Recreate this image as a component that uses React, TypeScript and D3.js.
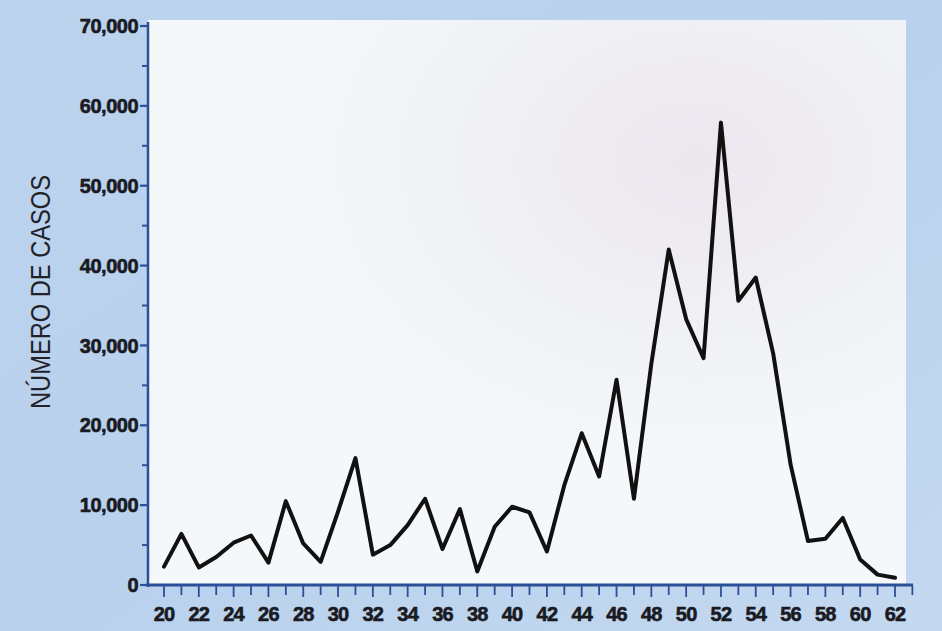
import React from "react";
import * as d3 from "d3";

const years: number[] = [
  1920, 1921, 1922, 1923, 1924, 1925, 1926, 1927, 1928, 1929,
  1930, 1931, 1932, 1933, 1934, 1935, 1936, 1937, 1938, 1939,
  1940, 1941, 1942, 1943, 1944, 1945, 1946, 1947, 1948, 1949,
  1950, 1951, 1952, 1953, 1954, 1955, 1956, 1957, 1958, 1959,
  1960, 1961, 1962,
];
const cases: number[] = [
  2300, 6400, 2200, 3500, 5300, 6200, 2800, 10500, 5200, 2900,
  9200, 15900, 3800, 5000, 7500, 10800, 4500, 9500, 1700, 7300,
  9800, 9100, 4200, 12500, 19000, 13600, 25700, 10800, 27700, 42000,
  33300, 28400, 57900, 35600, 38500, 29000, 15100, 5500, 5800, 8400,
  3200, 1300, 900,
];
const xTickLabels: number[] = [20, 22, 24, 26, 28, 30, 32, 34, 36, 38, 40, 42, 44, 46, 48, 50, 52, 54, 56, 58, 60, 62];
const yTickValues: number[] = [0, 10000, 20000, 30000, 40000, 50000, 60000, 70000];
const yTitle = "NÚMERO DE CASOS";

const W = 942;
const H = 631;

export default function App() {
  const x = d3.scaleLinear().domain([1920, 1962]).range([164, 895]);
  const y = d3.scaleLinear().domain([0, 70000]).range([585, 26]);
  const axisX0 = 148;
  const axisY0 = 585;
  const data = years.map((yr, i) => ({ yr, v: cases[i] }));
  const line = d3
    .line<{ yr: number; v: number }>()
    .x((d) => x(d.yr))
    .y((d) => y(d.v));

  const minorY = d3.range(5000, 70000, 10000);
  const allYears = d3.range(1920, 1964);
  const fmt = d3.format(",");
  const labelFont = "'Liberation Sans', Arial, sans-serif";
  const axisColor = "#2c4f98";

  return (
    <div style={{ position: "absolute", left: 0, top: 0, width: W, height: H }}>
      <svg width={W} height={H} style={{ display: "block" }}>
        <defs>
          <linearGradient id="bg" x1="0" y1="0" x2="1" y2="1">
            <stop offset="0" stopColor="#bcd3ee" />
            <stop offset="0.5" stopColor="#b9d1ed" />
            <stop offset="1" stopColor="#c4d9f0" />
          </linearGradient>
          <radialGradient id="tint" cx="0.72" cy="0.25" r="0.55">
            <stop offset="0" stopColor="#ede6ee" />
            <stop offset="0.6" stopColor="#f0f2f6" />
            <stop offset="1" stopColor="#f5f8fb" />
          </radialGradient>
        </defs>
        <rect x={0} y={0} width={W} height={H} fill="url(#bg)" />
        <rect x={axisX0} y={20} width={758} height={axisY0 - 20} fill="url(#tint)" />

        {/* Y axis */}
        <line x1={axisX0} x2={axisX0} y1={y(70000) - 4} y2={axisY0 + 2} stroke={axisColor} strokeWidth={2.5} />
        {yTickValues.map((v) => (
          <g key={"yt" + v}>
            <line x1={axisX0 - 8} x2={axisX0} y1={y(v)} y2={y(v)} stroke={axisColor} strokeWidth={2.2} />
            <text
              x={axisX0 - 10}
              y={y(v)}
              dy="0.36em"
              textAnchor="end"
              fontFamily={labelFont}
              fontWeight="bold"
              fontSize={20}
              fill="#1a1a22"
              stroke="#1a1a22"
              strokeWidth={0.6}
              letterSpacing={-0.5}
            >
              {fmt(v)}
            </text>
          </g>
        ))}
        {minorY.map((v) => (
          <line key={"ym" + v} x1={axisX0 - 6} x2={axisX0} y1={y(v)} y2={y(v)} stroke={axisColor} strokeWidth={2} />
        ))}

        {/* X axis */}
        <line x1={axisX0 - 2} x2={913} y1={axisY0} y2={axisY0} stroke={axisColor} strokeWidth={3} />
        {allYears.map((yr) => (
          <line
            key={"xt" + yr}
            x1={x(yr)}
            x2={x(yr)}
            y1={axisY0}
            y2={axisY0 + (yr % 2 === 0 ? 12 : 10)}
            stroke={axisColor}
            strokeWidth={1.8}
          />
        ))}
        {xTickLabels.map((t) => (
          <text
            key={"xl" + t}
            x={x(1900 + t)}
            y={621}
            textAnchor="middle"
            fontFamily={labelFont}
            fontWeight="bold"
            fontSize={20}
            fill="#1a1a22"
            stroke="#1a1a22"
            strokeWidth={0.6}
            letterSpacing={-0.8}
          >
            {t}
          </text>
        ))}

        {/* Y title */}
        <text
          transform="translate(50,292) rotate(-90)"
          textAnchor="middle"
          fontFamily={labelFont}
          fontSize={27}
          fill="#22222a"
          textLength={234}
          lengthAdjust="spacingAndGlyphs"
        >
          {yTitle}
        </text>

        {/* Data line */}
        <path d={line(data) || ""} fill="none" stroke="#111" strokeWidth={4} strokeLinejoin="round" strokeLinecap="round" />
      </svg>
    </div>
  );
}
